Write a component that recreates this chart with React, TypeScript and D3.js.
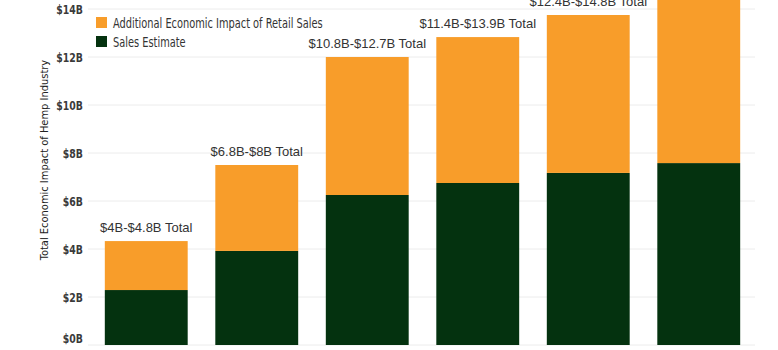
import React from 'react';
import * as d3 from 'd3';

const categories = ['2020', '2021', '2022', '2023', '2024', '2025'];
const salesEstimate = [2.29, 3.92, 6.25, 6.75, 7.17, 7.58];
const additionalImpact = [2.04, 3.58, 5.75, 6.08, 6.58, 7.25];
const totalLabels = [
  '$4B-$4.8B Total',
  '$6.8B-$8B Total',
  '$10.8B-$12.7B Total',
  '$11.4B-$13.9B Total',
  '$12.4B-$14.8B Total',
  '',
];
const yTicks = [0, 2, 4, 6, 8, 10, 12, 14];
const seriesNames = ['Additional Economic Impact of Retail Sales', 'Sales Estimate'];

const ORANGE = '#F89D2A';
const GREEN = '#04320F';
// no narrow gothic available, so squeeze the condensed face horizontally
const narrow = '"DejaVu Sans Condensed", "DejaVu Sans", sans-serif';

const width = 778;
const height = 350;
const margin = { top: 9, right: 24, bottom: 5, left: 91 };

const App = () => {
  const x = d3
    .scaleBand()
    .domain(categories)
    .range([margin.left, 754])
    .paddingInner(0.25)
    .paddingOuter(0.125);

  const y = d3
    .scaleLinear()
    .domain([0, 14])
    .range([height - margin.bottom, margin.top]);

  const rows = categories.map((c, i) => ({
    cat: c,
    sales: salesEstimate[i],
    extra: additionalImpact[i],
    label: totalLabels[i],
  }));

  return (
    <svg
      width={width}
      height={height}
      style={{ position: 'absolute', left: 0, top: 0, background: '#fff' }}
    >
      {/* gridlines */}
      <g>
        {yTicks.map((t) => (
          <line
            key={t}
            x1={88}
            x2={755}
            y1={y(t)}
            y2={y(t)}
            stroke="#ececec"
            strokeWidth={1}
          />
        ))}
      </g>

      {/* y tick labels */}
      <g fontFamily={narrow} fontWeight="bold" fontSize={13} fill="#3a3a3a">
        {yTicks.map((t) => (
          <text
            key={t}
            transform={`translate(83,${t === 0 ? 338 : y(t)}) scale(0.8,1)`}
            dy="0.35em"
            textAnchor="end"
          >
            {`$${t}B`}
          </text>
        ))}
      </g>

      <text
        transform={`translate(48,${160}) rotate(-90)`}
        textAnchor="middle"
        fontFamily={narrow}
        fontSize={11}
        fill="#222"
      >
        Total Economic Impact of Hemp Industry
      </text>

      {/* bars */}
      <g>
        {rows.map((d) => (
          <g key={d.cat}>
            <rect
              x={x(d.cat)}
              y={y(d.sales)}
              width={x.bandwidth()}
              height={y(0) - y(d.sales)}
              fill={GREEN}
            />
            <rect
              x={x(d.cat)}
              y={y(d.sales + d.extra)}
              width={x.bandwidth()}
              height={y(d.sales) - y(d.sales + d.extra)}
              fill={ORANGE}
            />
            <text
              x={(x(d.cat) || 0) + x.bandwidth() / 2}
              y={y(d.sales + d.extra) - 9}
              textAnchor="middle"
              fontFamily='"Liberation Sans", Arial, sans-serif'
              fontSize={13}
              fill="#333"
            >
              {d.label}
            </text>
          </g>
        ))}
      </g>

      {/* legend */}
      <g fontFamily={narrow} fontSize={14} fill="#333">
        {seriesNames.map((s, i) => (
          <g key={s} transform={`translate(96,${17 + i * 19})`}>
            <rect width={11} height={11} fill={i === 0 ? ORANGE : GREEN} />
            <text transform="translate(17,6) scale(0.78,1)" dy="0.35em">
              {s}
            </text>
          </g>
        ))}
      </g>
    </svg>
  );
};

export default App;
